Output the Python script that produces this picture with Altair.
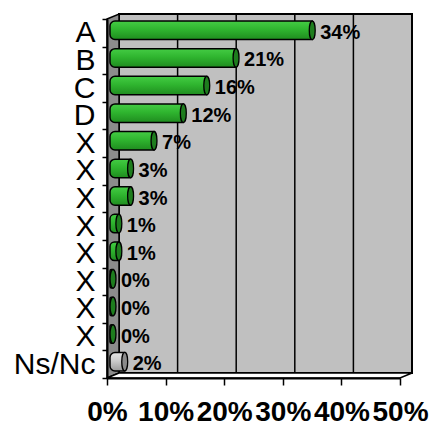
import json
import altair as alt
import pandas as pd

# ---- data -------------------------------------------------------------
labels = ["A", "B", "C", "D", "X", "X", "X", "X", "X", "X", "X", "X", "Ns/Nc"]
values = [34, 21, 16, 12, 7, 3, 3, 1, 1, 0, 0, 0, 2]
x_ticks = [0, 10, 20, 30, 40, 50]

# ---- geometry of the 3-D frame ----------------------------------------
W, H = 293, 359            # front face of the plot box
DX, DY = 12, -5            # depth offset of the back wall
MX, MY = DX / 2, DY / 2    # bars sit half way into the box
BAR_H = 18.5
FONT = "Liberation Sans"

rows = list(range(len(labels)))
df = pd.DataFrame({
    "row": rows,
    "label": labels,
    "value": values,
    "start": [0] * len(values),
    "kind": ["nc" if l == "Ns/Nc" else "item" for l in labels],
})

xs = alt.Scale(domain=[0, 50], nice=False, zero=True)
ys = alt.Scale(domain=rows, paddingInner=0, paddingOuter=0)

green = alt.LinearGradient(
    gradient="linear", x1=0, y1=0, x2=0, y2=1,
    stops=[alt.GradientStop(color="#44cc44", offset=0),
           alt.GradientStop(color="#2fb52f", offset=0.45),
           alt.GradientStop(color="#1f8c1f", offset=1)])
grey = alt.LinearGradient(
    gradient="linear", x1=0, y1=0, x2=0, y2=1,
    stops=[alt.GradientStop(color="#e6e6e6", offset=0),
           alt.GradientStop(color="#cccccc", offset=0.45),
           alt.GradientStop(color="#9a9a9a", offset=1)])

base = alt.Chart(df)

# back wall
wall = alt.Chart(pd.DataFrame({"k": [0]})).mark_rect(
    fill="#c0c0c0", stroke="black", strokeWidth=2
).encode(x=alt.value(DX), x2=alt.value(W + DX), y=alt.value(DY), y2=alt.value(H + DY))

# grid lines painted on the back wall
grid = alt.Chart(pd.DataFrame({"g": x_ticks[1:-1]})).mark_rule(
    color="black", strokeWidth=1.5, xOffset=DX
).encode(
    x=alt.X("g:Q", scale=xs, axis=None),
    y=alt.value(DY), y2=alt.value(H + DY),
)

# left side wall (parallelogram)
side = alt.Chart(pd.DataFrame({
    "px": [0, DX], "top": [0, DY], "bot": [H, H + DY]
})).mark_area(orient="vertical", fill="#8c8c8c", stroke="black", strokeWidth=1.5).encode(
    x=alt.X("px:Q", scale=None, axis=None),
    y=alt.Y("top:Q", scale=None, axis=None),
    y2="bot:Q",
)

# floor strip
floor = alt.Chart(pd.DataFrame({
    "py": [H, H + DY], "xl": [0, DX], "xr": [W, W + DX]
})).mark_area(orient="horizontal", fill="#ffffff", stroke="black", strokeWidth=1.5).encode(
    y=alt.Y("py:Q", scale=None, axis=None),
    x=alt.X("xl:Q", scale=None, axis=None),
    x2="xr:Q",
)

label_expr = json.dumps(labels) + "[datum.value]"

# cylinder bodies, carrying the axes
bars = base.mark_bar(
    height=BAR_H, xOffset=3, x2Offset=MX, yOffset=MY,
    cornerRadiusTopLeft=5, cornerRadiusBottomLeft=5,
    stroke="black", strokeWidth=1.5,
).encode(
    x=alt.X("start:Q", scale=xs, title=None, axis=alt.Axis(
        values=x_ticks, labelExpr="datum.value + '%'", labelFont=FONT,
        labelFontSize=28, labelFontWeight="bold", labelColor="black",
        labelPadding=13, labelFlush=False, labelOverlap=False,
        tickSize=7, tickColor="black", tickWidth=1.5,
        domainColor="black", domainWidth=2, grid=False, zindex=1)),
    x2="value:Q",
    y=alt.Y("row:O", scale=ys, title=None, axis=alt.Axis(
        labelExpr=label_expr, labelFont=FONT, labelFontSize=30,
        labelColor="black", labelPadding=7, labelAngle=0,
        tickBand="extent", tickSize=5, tickColor="black", tickWidth=1.5,
        domainColor="black", domainWidth=2, grid=False, zindex=1)),
    fill=alt.condition(alt.datum.kind == "nc", alt.value(grey), alt.value(green)),
)

# elliptical end caps
ellipse = "M0,-1 A0.32,1 0 1,1 0,1 A0.32,1 0 1,1 0,-1 Z"
caps = base.mark_point(
    shape=ellipse, size=BAR_H ** 2, filled=True, opacity=1,
    stroke="black", strokeWidth=1.3, xOffset=MX, yOffset=MY,
).encode(
    x=alt.X("value:Q", scale=xs, axis=None),
    y=alt.Y("row:O", scale=ys, axis=None),
    fill=alt.condition(alt.datum.kind == "nc", alt.value("#8a8a8a"), alt.value("#1e7d1e")),
)

# value labels
text = base.transform_calculate(
    txt="datum.value + '%'"
).mark_text(
    align="left", baseline="middle", dx=8, xOffset=MX,
    font=FONT, fontSize=20, fontWeight="bold", color="black",
).encode(
    x=alt.X("value:Q", scale=xs, axis=None),
    y=alt.Y("row:O", scale=ys, axis=None),
    text="txt:N",
)

chart = alt.layer(wall, grid, side, floor, bars, caps, text).resolve_scale(
    x="independent", y="independent"
).properties(
    width=W, height=H,
    padding={"left": 107, "top": 19, "right": 430 - 107 - W, "bottom": 424 - 19 - H},
    autosize=alt.AutoSizeParams(type="none"),
).configure_view(stroke=None).configure(background="white")

chart.save("out.html", embed_options={"renderer": "svg", "actions": False})
